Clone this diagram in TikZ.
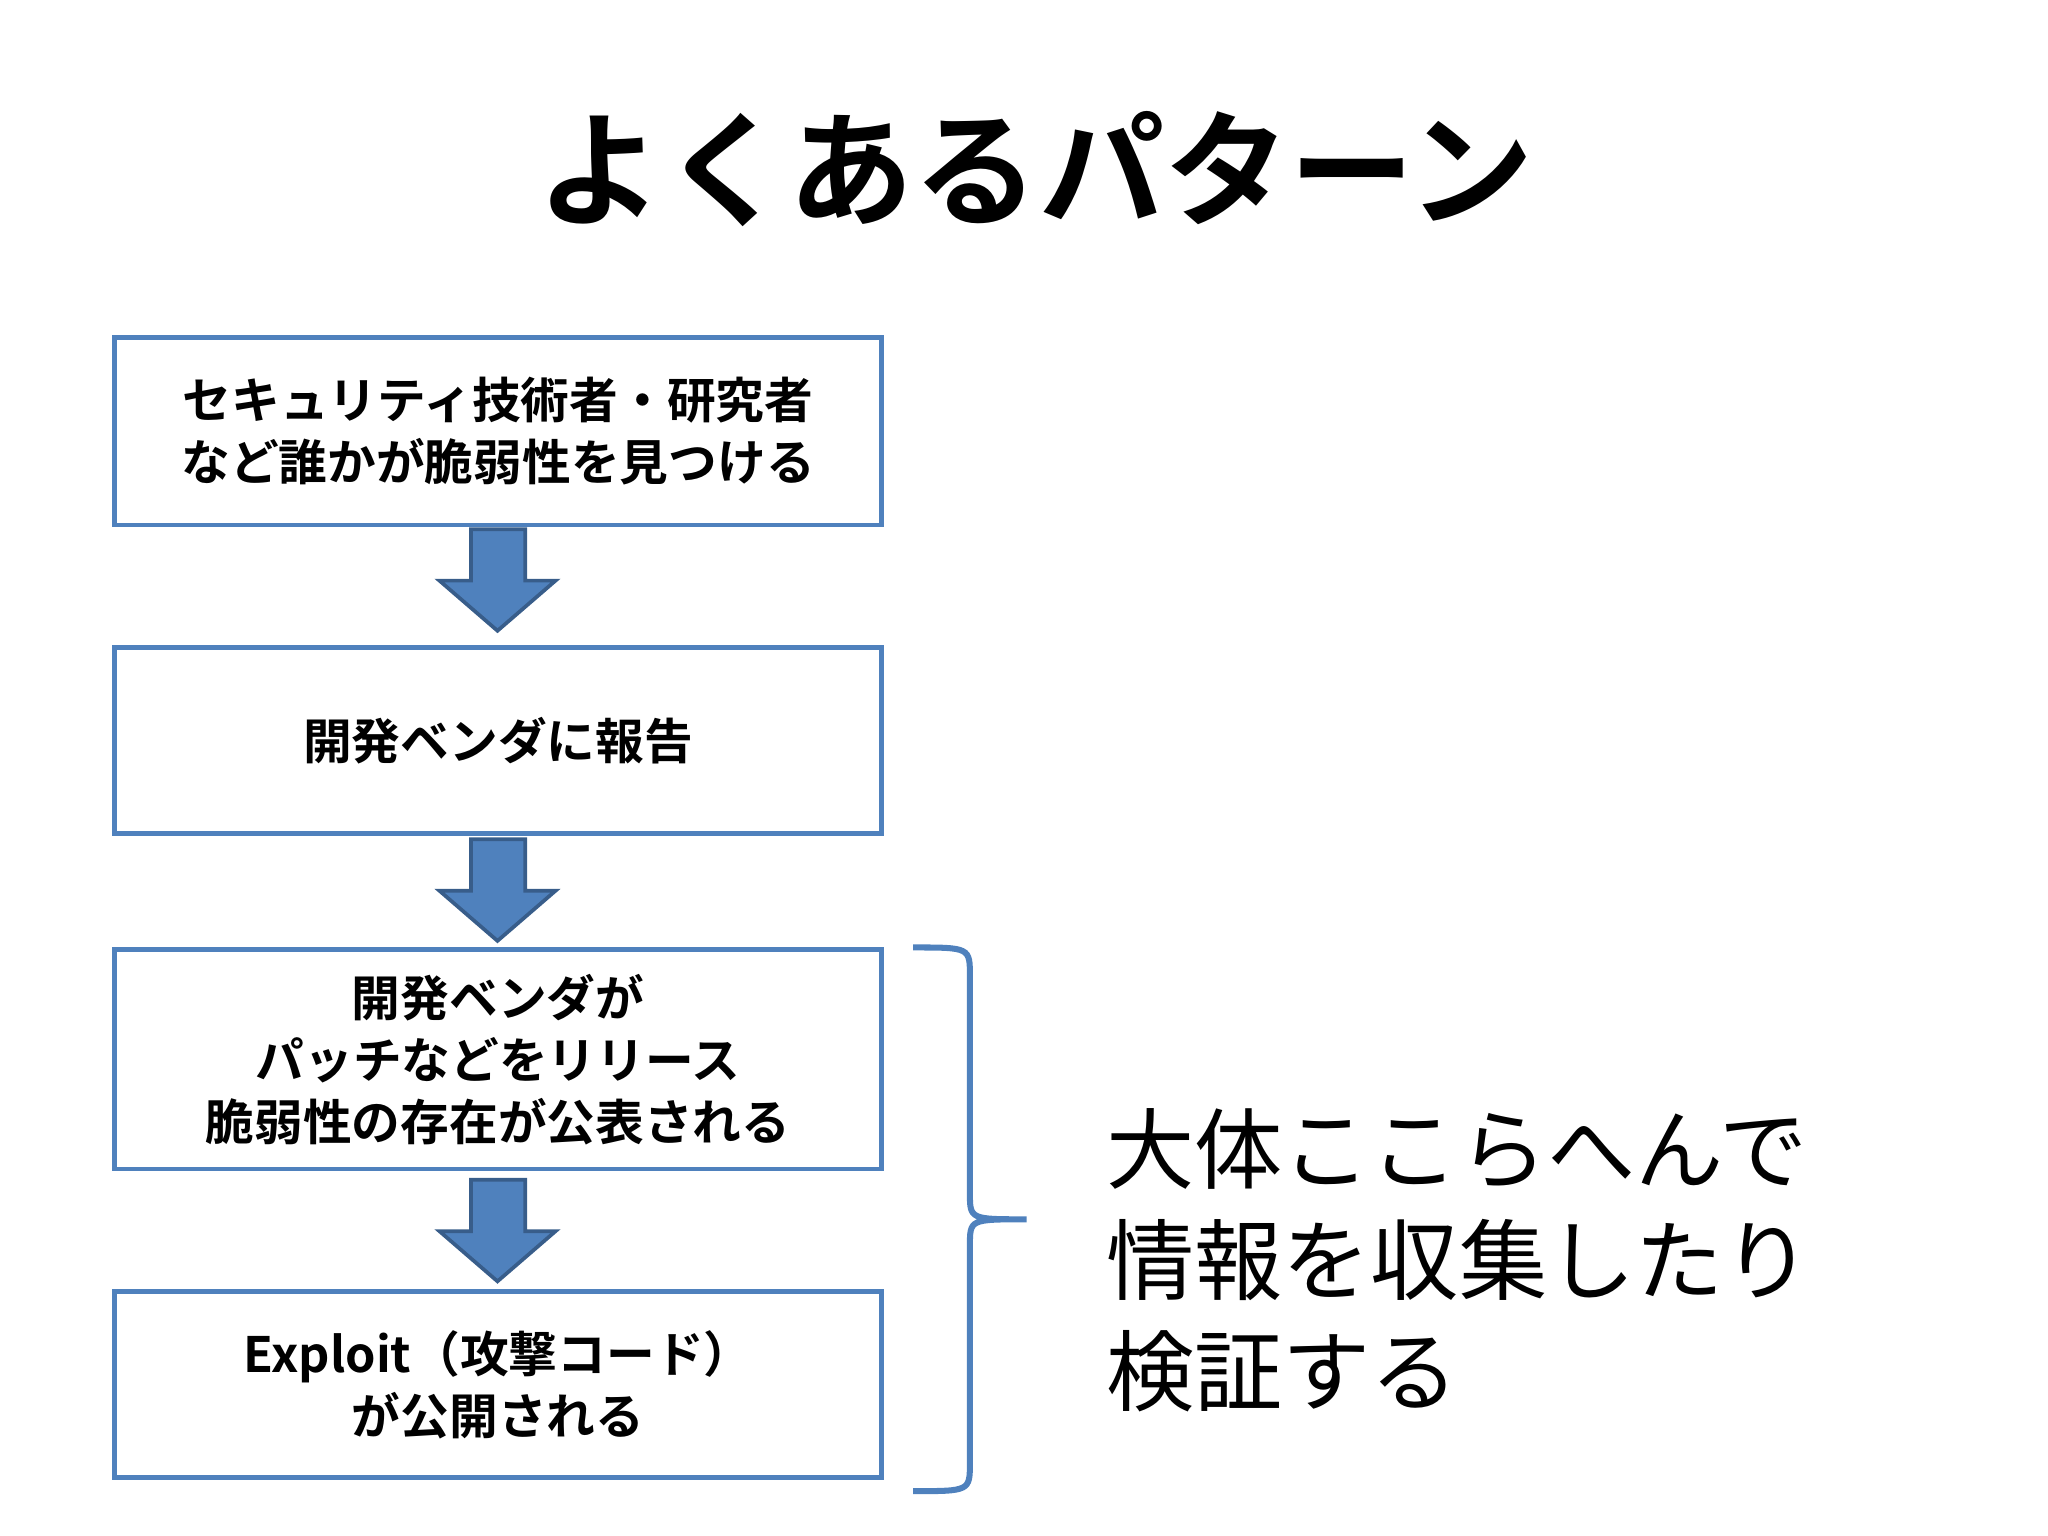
\documentclass[tikz,border=0pt]{standalone}
\usepackage{fontspec}
\setmainfont{Noto Sans CJK JP}
\newfontfamily\cjkb{Noto Sans CJK JP Bold}
\definecolor{bl}{RGB}{79,129,189}
\definecolor{bd}{RGB}{56,93,138}
\begin{document}
\begin{tikzpicture}[x=0.01cm,y=-0.01cm,
  box/.style={draw=bl,line width=1pt,minimum width=5.81cm,anchor=north west,align=center,font=\cjkb\fontsize{10.5}{13.4}\selectfont},
  arr/.style={fill=bl,draw=bd,line width=0.8pt,line join=miter}]
\useasboundingbox (0,0) rectangle (1552,1164);
\node[font=\cjkb\fontsize{27}{32}\selectfont] (title) at (785,128) {よくあるパターン};
\node[box,minimum height=1.42cm] (b1) at (85,254) {セキュリティ技術者・研究者\\など誰かが脆弱性を見つける};
\node[box,minimum height=1.41cm] (b2) at (85,489) {開発ベンダに報告};
\node[box,minimum height=1.66cm] (b3) at (85,718) {開発ベンダが\\パッチなどをリリース\\脆弱性の存在が公表される};
\node[box,minimum height=1.41cm] (b4) at (85,977) {Exploit（攻撃コード）\\が公開される};
\foreach \t in {401,636,894}{
  \draw[arr] (357,\t) -- (398,\t) -- (398,\t+39) -- (421,\t+39) -- (377,\t+77) -- (333,\t+39) -- (357,\t+39) -- cycle;
}
\draw[bl,line width=1.3pt] (692,718) .. controls (735,718) .. (735,740) -- (735,904) .. controls (735,924) .. (778,924)
  .. controls (735,924) .. (735,944) -- (735,1108) .. controls (735,1130) .. (692,1130);
\node[anchor=west,align=left,font=\fontsize{19}{24}\selectfont] (note) at (826,955) {大体ここらへんで\\情報を収集したり\\検証する};
\end{tikzpicture}
\end{document}
